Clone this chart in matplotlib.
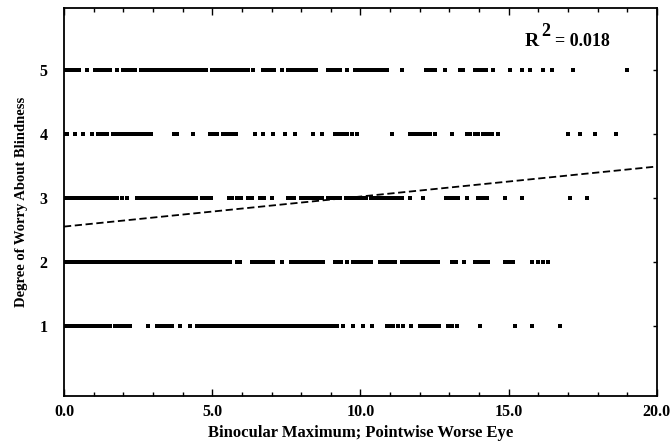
import matplotlib
matplotlib.use("Agg")
import matplotlib.pyplot as plt
from matplotlib.ticker import MultipleLocator, FormatStrFormatter

# worry level 5..1, x = binocular maximum (pointwise worse eye)
worry5 = [0.0, 0.1, 0.2, 0.3, 0.4, 0.5, 0.76, 1.05, 1.15, 1.25, 1.35, 1.45, 1.55, 1.78,
          2.0, 2.1, 2.2, 2.3, 2.4, 2.6, 2.7, 2.8, 2.9, 3.0, 3.1, 3.2, 3.3, 3.4, 3.5, 3.6,
          3.7, 3.8, 3.9, 4.0, 4.1, 4.2, 4.3, 4.4, 4.5, 4.6, 4.7, 4.8, 5.0, 5.1, 5.2, 5.3,
          5.4, 5.5, 5.6, 5.7, 5.8, 5.9, 6.0, 6.1, 6.2, 6.37, 6.7, 6.8, 6.9, 7.0, 7.1, 7.35,
          7.55, 7.65, 7.75, 7.85, 7.95, 8.1, 8.2, 8.3, 8.4, 8.5, 8.9, 9.0, 9.1, 9.2, 9.3,
          9.55, 9.8, 9.9, 10.0, 10.1, 10.2, 10.3, 10.4, 10.5, 10.6, 10.7, 10.8, 10.9, 11.4,
          12.2, 12.3, 12.4, 12.5, 12.85, 13.35, 13.45, 13.85, 13.95, 14.05, 14.15, 14.25,
          14.47, 15.04, 15.44, 15.72, 16.17, 16.47, 17.17, 18.99]
worry4 = [0.0, 0.1, 0.37, 0.65, 0.93, 1.15, 1.25, 1.35, 1.45, 1.65, 1.75, 1.85, 1.95, 2.05,
          2.15, 2.25, 2.35, 2.45, 2.55, 2.65, 2.75, 2.85, 2.95, 3.7, 3.8, 4.35, 4.92, 5.02,
          5.15, 5.38, 5.48, 5.58, 5.68, 5.8, 6.44, 6.7, 7.05, 7.45, 7.79, 8.4, 8.7, 9.14,
          9.24, 9.34, 9.44, 9.56, 9.7, 9.9, 11.05, 11.67, 11.77, 11.87, 11.97, 12.1, 12.25,
          12.35, 12.5, 13.08, 13.6, 13.7, 13.85, 13.95, 14.13, 14.23, 14.33, 14.45, 14.64,
          17.0, 17.4, 17.9, 18.62]
worry3 = [0.0, 0.1, 0.2, 0.3, 0.4, 0.5, 0.6, 0.7, 0.8, 0.9, 1.0, 1.1, 1.2, 1.3, 1.4, 1.5,
          1.6, 1.7, 1.8, 1.95, 2.11, 2.45, 2.55, 2.65, 2.75, 2.85, 2.95, 3.05, 3.15, 3.25,
          3.35, 3.45, 3.55, 3.65, 3.75, 3.85, 3.95, 4.05, 4.15, 4.25, 4.35, 4.45, 4.65, 4.75,
          4.85, 4.95, 5.55, 5.68, 5.85, 5.98, 6.2, 6.33, 6.6, 6.75, 7.0, 7.55, 7.65, 7.75,
          8.0, 8.1, 8.2, 8.3, 8.4, 8.5, 8.6, 8.7, 8.9, 9.0, 9.1, 9.2, 9.3, 9.5, 9.6, 9.7,
          9.8, 9.9, 10.0, 10.1, 10.2, 10.35, 10.45, 10.55, 10.65, 10.75, 10.85, 11.0, 11.1,
          11.2, 11.3, 11.4, 11.67, 12.1, 12.9, 13.0, 13.1, 13.2, 13.3, 13.6, 13.96, 14.06,
          14.16, 14.28, 14.87, 15.44, 17.07, 17.64]
worry2 = [0.0, 0.1, 0.2, 0.3, 0.4, 0.5, 0.6, 0.7, 0.8, 0.9, 1.0, 1.1, 1.2, 1.3, 1.4, 1.5,
          1.6, 1.7, 1.8, 1.9, 2.0, 2.1, 2.2, 2.3, 2.4, 2.5, 2.6, 2.7, 2.8, 2.9, 3.0, 3.1,
          3.2, 3.3, 3.4, 3.5, 3.6, 3.7, 3.8, 3.9, 4.0, 4.1, 4.2, 4.3, 4.4, 4.5, 4.6, 4.7,
          4.8, 4.9, 5.0, 5.1, 5.2, 5.3, 5.4, 5.5, 5.6, 5.85, 5.95, 6.35, 6.45, 6.55, 6.65,
          6.75, 6.85, 6.95, 7.05, 7.35, 7.65, 7.75, 7.85, 7.95, 8.05, 8.15, 8.25, 8.35,
          8.45, 8.55, 8.65, 8.75, 9.15, 9.25, 9.35, 9.55, 9.75, 9.85, 9.95, 10.05, 10.15,
          10.25, 10.35, 10.65, 10.75, 10.85, 10.95, 11.05, 11.15, 11.4, 11.5, 11.6, 11.7,
          11.8, 11.9, 12.0, 12.1, 12.2, 12.3, 12.4, 12.5, 12.6, 13.08, 13.22, 13.5, 13.86,
          13.96, 14.06, 14.18, 14.3, 14.87, 15.0, 15.14, 15.78, 15.99, 16.15, 16.32]
worry1 = [0.0, 0.1, 0.2, 0.3, 0.4, 0.5, 0.65, 0.75, 0.85, 0.95, 1.05, 1.15, 1.25, 1.35,
          1.45, 1.55, 1.72, 1.85, 1.98, 2.1, 2.23, 2.83, 3.14, 3.25, 3.38, 3.5, 3.64, 3.91,
          4.25, 4.5, 4.6, 4.7, 4.8, 4.9, 5.0, 5.1, 5.2, 5.3, 5.4, 5.5, 5.6, 5.7, 5.8, 5.9,
          6.0, 6.1, 6.2, 6.3, 6.4, 6.5, 6.6, 6.7, 6.8, 6.9, 7.0, 7.1, 7.2, 7.3, 7.4, 7.5,
          7.6, 7.7, 7.8, 7.9, 8.0, 8.1, 8.2, 8.3, 8.4, 8.5, 8.6, 8.7, 8.8, 8.9, 9.0, 9.1,
          9.2, 9.4, 9.75, 10.08, 10.4, 10.9, 11.0, 11.1, 11.25, 11.43, 11.7, 12.0, 12.1,
          12.2, 12.3, 12.4, 12.5, 12.65, 12.95, 13.1, 13.25, 14.03, 15.2, 15.78, 16.73]
rows = {5: worry5, 4: worry4, 3: worry3, 2: worry2, 1: worry1}

# regression line (as printed)
fit_intercept = 2.55
fit_slope = 0.047
fit_x = [0.0, 19.9]
r_squared = 0.018

plt.rcParams['font.family'] = ['Liberation Serif', 'DejaVu Serif']
plt.rcParams['font.weight'] = 'bold'

fig = plt.figure(figsize=(6.7, 4.41), dpi=100)
ax = fig.add_axes([0.0955, 0.102, 0.885, 0.88])

for level, xs in rows.items():
    ax.plot(xs, [level] * len(xs), 's', color='black', markersize=2.8,
            markeredgewidth=0)

ax.plot(fit_x, [fit_intercept + fit_slope * x for x in fit_x], color='black',
        linestyle=(0, (4, 2)), linewidth=1.3)

ax.text(15.55, 5.38, 'R', fontsize=14, fontweight='bold')
ax.text(16.1, 5.53, '2', fontsize=13, fontweight='bold')
ax.text(16.55, 5.38, '= %.3f' % r_squared, fontsize=13, fontweight='bold')

ax.set_xlim(0, 20)
ax.set_ylim(-0.1, 5.97)
ax.xaxis.set_major_locator(MultipleLocator(5))
ax.xaxis.set_minor_locator(MultipleLocator(1))
ax.xaxis.set_major_formatter(FormatStrFormatter('%.1f'))
ax.set_yticks([1, 2, 3, 4, 5])
ax.tick_params(axis='both', which='both', direction='in', top=True, right=True,
               labelsize=11.5, width=1)
ax.tick_params(axis='x', which='major', length=5, pad=6)
ax.tick_params(axis='x', which='minor', length=3)
ax.tick_params(axis='y', which='major', length=3, pad=12)
for s in ax.spines.values():
    s.set_linewidth(1.3)

ax.set_xlabel('Binocular Maximum; Pointwise Worse Eye', fontsize=12,
              fontweight='bold', labelpad=3)
ax.set_ylabel('Degree of Worry About Blindness', fontsize=10.5,
              fontweight='bold', labelpad=8)

fig.savefig('out.png', dpi=100)
